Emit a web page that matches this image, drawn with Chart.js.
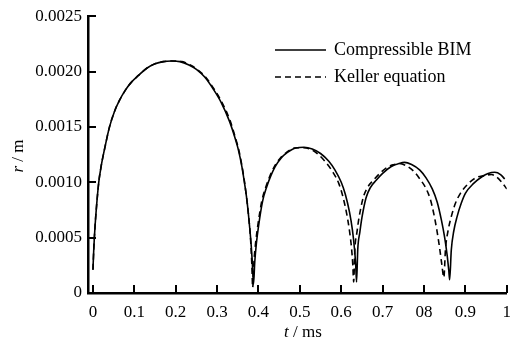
<!DOCTYPE html>
<html>
<head>
<meta charset="utf-8">
<script src="https://cdn.jsdelivr.net/npm/chart.js@4/dist/chart.umd.min.js"></script>
<style>
  html, body { margin: 0; padding: 0; background: #fff; }
  #wrap { width: 520px; height: 347px; position: relative; }
</style>
</head>
<body>
<div id="wrap"><canvas id="bubbleChart"></canvas></div>
<script>
// Axis ticks
const tTicks = [0, 0.1, 0.2, 0.3, 0.4, 0.5, 0.6, 0.7, 0.8, 0.9, 1];
const tTickLabels = ['0', '0.1', '0.2', '0.3', '0.4', '0.5', '0.6', '0.7', '08', '0.9', '1'];
const rTicks = [0, 0.0005, 0.001, 0.0015, 0.002, 0.0025];
const rTickLabels = ['0', '0.0005', '0.0010', '0.0015', '0.0020', '0.0025'];

const seriesNames = ['Compressible BIM', 'Keller equation'];

// Compressible BIM (solid line): t in ms, r in m
const bimT = [
  0, 0.002, 0.005, 0.009, 0.014, 0.02, 0.028, 0.04, 0.052, 0.064, 0.078, 0.092, 0.11, 0.13, 0.15, 0.17, 0.19,
  0.21, 0.232, 0.25, 0.27, 0.291, 0.31, 0.33, 0.345, 0.351, 0.36, 0.366, 0.371, 0.376, 0.38, 0.383, 0.385, 0.388,
  0.391, 0.395, 0.40, 0.41, 0.42, 0.43, 0.44, 0.455, 0.47, 0.49, 0.51,
  0.53, 0.55, 0.57, 0.585, 0.60, 0.61, 0.62, 0.627, 0.632, 0.635, 0.637,
  0.64, 0.645, 0.65, 0.66, 0.67, 0.685, 0.70, 0.72, 0.74, 0.753,
  0.77, 0.79, 0.805, 0.82, 0.832, 0.842, 0.85, 0.856, 0.86, 0.862,
  0.866, 0.872, 0.88, 0.89, 0.90, 0.92, 0.94, 0.955, 0.971, 0.985, 0.995];
const bimR = [
  0.00021, 0.0004, 0.0006, 0.0008, 0.001, 0.00115, 0.0013, 0.0015, 0.00164, 0.00174, 0.00183, 0.0019, 0.001965, 0.00203, 0.00207, 0.00209, 0.002095,
  0.00209, 0.00206, 0.00202, 0.00195, 0.00184, 0.00172, 0.00155, 0.00138, 0.0013, 0.00114, 0.001, 0.00087, 0.0007, 0.00054, 0.0004, 0.00028, 0.00008,
  0.00028, 0.00045, 0.0006, 0.00083, 0.00096, 0.00106, 0.00114, 0.00122, 0.00127, 0.00131, 0.001316,
  0.0013, 0.00126, 0.00119, 0.00111, 0.001, 0.00089, 0.00073, 0.00057, 0.0004, 0.00025, 0.0001,
  0.0004, 0.00055, 0.00068, 0.00086, 0.00095, 0.00102, 0.00108, 0.00114, 0.00117, 0.00118,
  0.00116, 0.00111, 0.00104, 0.00094, 0.00082, 0.00066, 0.0005, 0.00034, 0.0002, 0.00012,
  0.00039, 0.00056, 0.00069, 0.00081, 0.0009, 0.00099, 0.00105, 0.00108, 0.00109, 0.00107, 0.00103];

// Keller equation (dashed line)
const kelT = [
  0, 0.002, 0.005, 0.009, 0.014, 0.02, 0.028, 0.04, 0.052, 0.064, 0.078, 0.092, 0.11, 0.13, 0.15, 0.17, 0.195,
  0.215, 0.235, 0.252, 0.272, 0.293, 0.312, 0.332, 0.346, 0.352, 0.36, 0.366, 0.37, 0.376, 0.381, 0.384, 0.386,
  0.389, 0.393, 0.398, 0.408, 0.418, 0.428, 0.438, 0.453, 0.468, 0.487, 0.505,
  0.525, 0.545, 0.565, 0.58, 0.594, 0.604, 0.613, 0.62, 0.625, 0.628, 0.63,
  0.633, 0.638, 0.643, 0.653, 0.663, 0.678, 0.693, 0.713, 0.728, 0.74,
  0.757, 0.775, 0.79, 0.804, 0.815, 0.824, 0.831, 0.838, 0.843, 0.848,
  0.852, 0.858, 0.866, 0.876, 0.888, 0.905, 0.925, 0.945, 0.963, 0.975, 0.988, 1.0];
const kelR = [
  0.00021, 0.0004, 0.0006, 0.0008, 0.001, 0.00115, 0.0013, 0.0015, 0.00164, 0.00174, 0.00183, 0.0019, 0.001965, 0.00203, 0.00207, 0.00209, 0.002095,
  0.00209, 0.00206, 0.00202, 0.00195, 0.00184, 0.00172, 0.00155, 0.00138, 0.0013, 0.00115, 0.00101, 0.0009, 0.0007, 0.00048, 0.00025, 0.00005,
  0.00028, 0.00045, 0.0006, 0.00083, 0.00096, 0.00106, 0.00114, 0.00122, 0.00127, 0.00131, 0.001312,
  0.0013, 0.00125, 0.00117, 0.00109, 0.00099, 0.00087, 0.00072, 0.00056, 0.0004, 0.00025, 0.0001,
  0.0004, 0.00055, 0.00068, 0.00086, 0.00095, 0.00102, 0.00108, 0.00114, 0.00116, 0.00117,
  0.00115, 0.0011, 0.00103, 0.00095, 0.00085, 0.00071, 0.00057, 0.0004, 0.00026, 0.00014,
  0.0004, 0.00056, 0.00069, 0.00081, 0.0009, 0.00098, 0.00104, 0.00106, 0.00107, 0.00105, 0.001, 0.00094];

const SERIF = "'Liberation Serif', 'Times New Roman', serif";

function toPoints(xs, ys) {
    return xs.map((x, i) => ({ x: x, y: ys[i] }));
}

// Inward ticks, axis titles with italic symbols and in-plot legend
const decorPlugin = {
    id: 'decor',
    afterDraw(chart) {
        const ctx = chart.ctx;
        const area = chart.chartArea;
        const xs = chart.scales.x, ys = chart.scales.y;
        ctx.save();
        ctx.strokeStyle = '#000';
        ctx.lineWidth = 2;
        ctx.beginPath();
        tTicks.forEach(v => {
            const px = Math.round(xs.getPixelForValue(v));
            ctx.moveTo(px, area.bottom);
            ctx.lineTo(px, area.bottom - 8);
        });
        rTicks.forEach(v => {
            const py = Math.round(ys.getPixelForValue(v));
            ctx.moveTo(area.left, py);
            ctx.lineTo(area.left + 8, py);
        });
        ctx.stroke();

        // mixed italic / upright title text
        function drawTitle(parts, cx, cy, rotate) {
            ctx.save();
            ctx.translate(cx, cy);
            if (rotate) ctx.rotate(-Math.PI / 2);
            ctx.fillStyle = '#000';
            ctx.textBaseline = 'middle';
            ctx.textAlign = 'left';
            let total = 0;
            parts.forEach(p => {
                ctx.font = (p.italic ? 'italic ' : '') + '17px ' + SERIF;
                p.w = ctx.measureText(p.text).width;
                total += p.w;
            });
            let x = -total / 2;
            parts.forEach(p => {
                ctx.font = (p.italic ? 'italic ' : '') + '17px ' + SERIF;
                ctx.fillText(p.text, x, 0);
                x += p.w;
            });
            ctx.restore();
        }
        drawTitle([{ text: 't', italic: true }, { text: ' / ms' }], 303, 333, false);
        drawTitle([{ text: 'r', italic: true }, { text: ' / m' }], 19, 156, true);

        // legend
        const legendY = [50, 77];
        chart.data.datasets.forEach((ds, i) => {
            ctx.beginPath();
            ctx.lineWidth = 1.5;
            ctx.setLineDash(ds.borderDash || []);
            ctx.moveTo(275, legendY[i]);
            ctx.lineTo(326, legendY[i]);
            ctx.stroke();
            ctx.setLineDash([]);
            ctx.font = '18px ' + SERIF;
            ctx.fillStyle = '#000';
            ctx.textBaseline = 'middle';
            ctx.textAlign = 'left';
            ctx.fillText(ds.label, 334, legendY[i]);
        });
        ctx.restore();
    }
};

new Chart(document.getElementById('bubbleChart'), {
    type: 'scatter',
    data: {
        datasets: [{
            label: seriesNames[0],
            data: toPoints(bimT, bimR),
            showLine: true,
            borderColor: '#000',
            borderWidth: 1.6,
            pointRadius: 0,
            cubicInterpolationMode: 'monotone'
        }, {
            label: seriesNames[1],
            data: toPoints(kelT, kelR),
            showLine: true,
            borderColor: '#000',
            borderWidth: 1.6,
            borderDash: [6, 4],
            pointRadius: 0,
            cubicInterpolationMode: 'monotone'
        }]
    },
    options: {
        responsive: true,
        maintainAspectRatio: false,
        animation: false,
        layout: { padding: { top: 15, right: 8, left: 0, bottom: 0 } },
        plugins: {
            legend: { display: false },
            tooltip: { enabled: false }
        },
        scales: {
            x: {
                type: 'linear',
                min: -0.012,
                max: 1,
                afterBuildTicks: scale => { scale.ticks = tTicks.map(v => ({ value: v })); },
                afterFit: scale => { scale.height = 54; },
                grid: { display: false, drawTicks: false },
                border: { display: true, color: '#000', width: 2.5 },
                ticks: {
                    padding: 9,
                    color: '#000',
                    font: { family: SERIF, size: 17 },
                    maxRotation: 0,
                    autoSkip: false,
                    callback: (v, i) => tTickLabels[i]
                }
            },
            y: {
                type: 'linear',
                min: 0,
                max: 0.0025,
                afterBuildTicks: scale => { scale.ticks = rTicks.map(v => ({ value: v })); },
                afterFit: scale => { scale.width = 88; },
                grid: { display: false, drawTicks: false },
                border: { display: true, color: '#000', width: 2.5 },
                ticks: {
                    padding: 6,
                    color: '#000',
                    font: { family: SERIF, size: 17 },
                    autoSkip: false,
                    callback: (v, i) => rTickLabels[i]
                }
            }
        }
    },
    plugins: [decorPlugin]
});
</script>
</body>
</html>
